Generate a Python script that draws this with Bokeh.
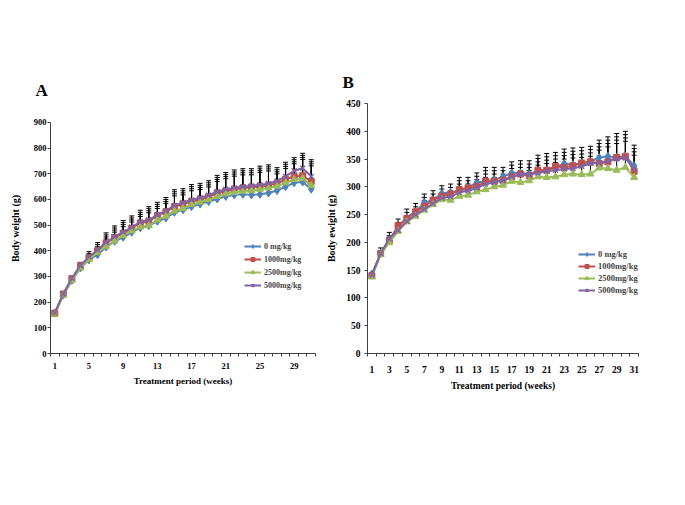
from bokeh.plotting import figure
from bokeh.layouts import row
from bokeh.models import (ColumnDataSource, Whisker, TeeHead, Legend, LegendItem,
                          Title, FixedTicker, Range1d)
from bokeh.embed import file_html
from bokeh.resources import INLINE

weeks = list(range(1, 32))
series_names = ["0 mg/kg", "1000mg/kg", "2500mg/kg", "5000mg/kg"]
colors = ["#4F81BD", "#C0504D", "#9BBB59", "#8064A2"]
markers = ["diamond", "square", "triangle", "x"]
marker_sizes = [8, 6, 7, 7]

# Panel A body weight means, g
a_0 = [157, 228, 285, 333, 365, 385, 415, 437, 453, 472, 490, 498, 515, 528, 550, 560,
       572, 582, 592, 602, 612, 618, 620, 618, 620, 625, 635, 650, 665, 668, 640]
a_1000 = [157, 232, 292, 342, 373, 400, 430, 452, 468, 488, 508, 515, 537, 552, 572, 582,
          592, 600, 610, 625, 632, 640, 645, 648, 650, 655, 663, 678, 690, 693, 670]
a_2500 = [153, 228, 285, 333, 367, 393, 418, 438, 460, 478, 493, 498, 520, 535, 555, 565,
          580, 590, 600, 612, 622, 628, 632, 635, 640, 645, 652, 665, 678, 682, 655]
a_5000 = [158, 233, 293, 343, 377, 403, 433, 455, 473, 492, 512, 520, 540, 556, 577, 588,
          598, 607, 617, 630, 640, 645, 650, 653, 657, 662, 672, 690, 712, 722, 690]
# Panel A standard deviations
a_0_sd = [5, 5, 5, 5, 8, 23, 31, 36, 41, 40, 44, 50, 50, 56, 64, 58,
          62, 57, 57, 68, 69, 73, 76, 78, 86, 86, 65, 71, 74, 88, 91]
a_1000_sd = [5, 4, 5, 5, 16, 24, 32, 37, 42, 40, 42, 49, 44, 48, 58, 52,
             58, 55, 55, 61, 65, 67, 67, 64, 72, 72, 53, 59, 65, 79, 77]
a_2500_sd = [5, 5, 5, 6, 14, 23, 36, 43, 42, 42, 49, 58, 53, 57, 67, 61,
             62, 57, 57, 66, 67, 71, 72, 69, 74, 74, 56, 64, 69, 82, 84]
a_5000_sd = [10, 7, 7, 12, 20, 29, 37, 42, 45, 44, 46, 52, 49, 52, 61, 54,
             60, 56, 56, 64, 65, 70, 70, 67, 73, 73, 52, 55, 51, 58, 65]

# Panel B body weight means, g
b_0 = [143, 180, 205, 228, 245, 255, 272, 276, 288, 290, 293, 298, 308, 310, 313, 318,
       325, 325, 323, 328, 330, 335, 342, 340, 342, 345, 353, 355, 353, 355, 338]
b_1000 = [140, 180, 203, 230, 243, 255, 265, 276, 283, 287, 295, 298, 300, 310, 310, 312,
          318, 323, 320, 330, 330, 337, 335, 338, 343, 345, 342, 345, 353, 355, 328]
b_2500 = [138, 178, 200, 220, 237, 247, 258, 268, 277, 276, 283, 285, 291, 295, 300, 303,
          310, 308, 311, 318, 317, 318, 322, 323, 322, 323, 334, 333, 330, 335, 317]
b_5000 = [141, 180, 207, 222, 238, 250, 260, 270, 280, 282, 290, 293, 298, 305, 308, 311,
          318, 322, 322, 325, 328, 330, 332, 333, 337, 342, 343, 347, 350, 352, 332]
b_0_sd = [3, 10, 13, 14, 15, 15, 15, 17, 14, 15, 24, 19, 17, 25, 22, 17,
          20, 22, 24, 29, 30, 27, 26, 30, 29, 28, 31, 35, 43, 45, 37]
b_1000_sd = [3, 4, 9, 6, 11, 9, 16, 11, 13, 12, 16, 13, 19, 19, 19, 17,
             21, 18, 21, 21, 24, 19, 27, 26, 22, 22, 36, 39, 37, 39, 41]
b_2500_sd = [3, 3, 3, 4, 5, 5, 11, 7, 7, 11, 16, 14, 16, 22, 17, 14,
             17, 21, 18, 21, 25, 26, 28, 29, 31, 32, 32, 39, 48, 47, 40]
b_5000_sd = [3, 3, 3, 8, 10, 8, 15, 11, 10, 11, 15, 12, 15, 18, 15, 12,
             15, 13, 13, 20, 20, 20, 24, 25, 22, 19, 29, 31, 34, 36, 31]

a_ticks = [0, 100, 200, 300, 400, 500, 600, 700, 800, 900]
b_ticks = [0, 50, 100, 150, 200, 250, 300, 350, 400, 450]
a_xlabels = [1, 5, 9, 13, 17, 21, 25, 29]
b_xlabels = [1, 3, 5, 7, 9, 11, 13, 15, 17, 19, 21, 23, 25, 27, 29, 31]
x_bounds = [w - 0.5 for w in weeks] + [31.5]

FONT = "Liberation Serif"
AXIS_COLOR = "#404040"
HEIGHT = 489
BORDER_TOP = 103
FRAME_H = 250


def make_panel(width, yrange_end, yaxis_top, border_left, border_right,
               means, sds, yticks, xlabels, ylabel, letter, letter_offset, letter_standoff,
               legend_loc, tick_fs, title_fs, ytitle_fs, legend_fs,
               ylab_standoff, ytitle_standoff, xlab_standoff, xtitle_standoff, legend_spacing):
    p = figure(width=width, height=HEIGHT, x_range=Range1d(0.5, 31.5),
               y_range=Range1d(0, yrange_end), output_backend="svg", toolbar_location=None,
               min_border_left=border_left, min_border_right=border_right,
               min_border_top=BORDER_TOP, min_border_bottom=HEIGHT - BORDER_TOP - FRAME_H)
    p.outline_line_color = None
    p.xgrid.visible = False
    p.ygrid.visible = False
    p.background_fill_color = "white"
    p.border_fill_color = "white"
    p.title = Title(text=letter, align="left", offset=letter_offset, standoff=letter_standoff,
                    text_font=FONT, text_font_style="bold", text_font_size="17px",
                    text_color="black")

    for i in range(4):
        upper = [m + s for m, s in zip(means[i], sds[i])]
        src = ColumnDataSource(dict(x=weeks, y=means[i], upper=upper))
        wh = Whisker(source=src, base="x", lower="y", upper="upper", dimension="height",
                     line_color="black", line_width=1, lower_head=None,
                     upper_head=TeeHead(size=5, line_color="black", line_width=1))
        p.add_layout(wh)
    items = []
    for i in range(4):
        src = ColumnDataSource(dict(x=weeks, y=means[i]))
        lr = p.line("x", "y", source=src, line_color=colors[i], line_width=2)
        sr = p.scatter("x", "y", source=src, marker=markers[i], size=marker_sizes[i],
                       fill_color=colors[i], line_color=colors[i],
                       line_width=1.5 if markers[i] == "x" else 1)
        items.append(LegendItem(label=series_names[i], renderers=[lr, sr]))

    leg = Legend(items=items, location=legend_loc, background_fill_alpha=0,
                 border_line_alpha=0, padding=0, margin=0, spacing=legend_spacing,
                 glyph_height=10, glyph_width=17, label_height=10, label_standoff=3,
                 label_text_font=FONT, label_text_font_style="bold",
                 label_text_font_size=legend_fs)
    p.add_layout(leg)

    xa = p.xaxis[0]
    xa.ticker = FixedTicker(ticks=xlabels, minor_ticks=x_bounds)
    xa.major_tick_out = 0
    xa.major_tick_in = 0
    xa.minor_tick_out = 3
    xa.minor_tick_in = 0
    xa.axis_line_color = AXIS_COLOR
    xa.minor_tick_line_color = AXIS_COLOR
    xa.major_label_standoff = xlab_standoff
    xa.major_label_text_font = FONT
    xa.major_label_text_font_style = "bold"
    xa.major_label_text_font_size = tick_fs
    xa.major_label_text_color = "black"
    xa.axis_label = "Treatment period (weeks)"
    xa.axis_label_text_font = FONT
    xa.axis_label_text_font_style = "bold"
    xa.axis_label_text_font_size = title_fs
    xa.axis_label_text_color = "black"
    xa.axis_label_standoff = xtitle_standoff

    ya = p.yaxis[0]
    ya.ticker = FixedTicker(ticks=yticks, minor_ticks=[])
    ya.bounds = (0, yaxis_top)
    ya.major_tick_out = 3
    ya.major_tick_in = 0
    ya.minor_tick_out = 0
    ya.minor_tick_in = 0
    ya.axis_line_color = AXIS_COLOR
    ya.major_tick_line_color = AXIS_COLOR
    ya.major_label_standoff = ylab_standoff
    ya.major_label_text_font = FONT
    ya.major_label_text_font_style = "bold"
    ya.major_label_text_font_size = tick_fs
    ya.major_label_text_color = "black"
    ya.axis_label = ylabel
    ya.axis_label_text_font = FONT
    ya.axis_label_text_font_style = "bold"
    ya.axis_label_text_font_size = ytitle_fs
    ya.axis_label_text_color = "black"
    ya.axis_label_standoff = ytitle_standoff
    return p


pa = make_panel(323, 974, 900, 50, 8,
                [a_0, a_1000, a_2500, a_5000], [a_0_sd, a_1000_sd, a_2500_sd, a_5000_sd],
                a_ticks, a_xlabels, "Body weight (g)", "A", -15, 7,
                (194, 63), "8.5px", "9px", "10px", "8px",
                1, 10, 6, 4, 3)
pb = make_panel(351, 450, 450, 43, 36,
                [b_0, b_1000, b_2500, b_5000], [b_0_sd, b_1000_sd, b_2500_sd, b_5000_sd],
                b_ticks, b_xlabels, "Body ewight (g)", "B", -25, 23,
                (211, 58), "9.5px", "9.5px", "10px", "8.5px",
                4, 6, 9, 5, 2)

layout = row(pa, pb)
open("out.html", "w").write(file_html(layout, INLINE))
